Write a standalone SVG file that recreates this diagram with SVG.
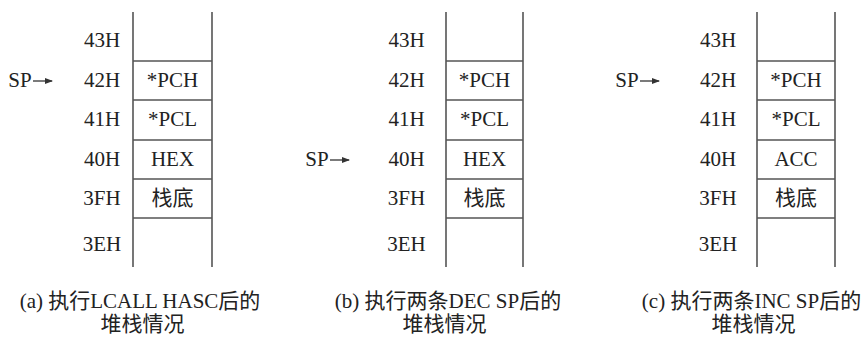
<svg xmlns="http://www.w3.org/2000/svg" width="867" height="339" viewBox="0 0 867 339">
<style>
.t{font-family:"Liberation Serif","Noto Sans CJK SC",serif;font-size:21px;fill:#222;text-anchor:middle}
.l{stroke:#555;stroke-width:1.6;fill:none}
.a{stroke:#333;stroke-width:1.3;fill:none}
</style>
<defs>
<marker id="ah" markerWidth="8" markerHeight="6" refX="7" refY="3" orient="auto" markerUnits="userSpaceOnUse">
<path d="M0,0 L8,3 L0,6 Z" fill="#333"/>
</marker>
</defs>
<rect width="867" height="339" fill="#fff"/>

<g id="stack-a">
<path class="l" d="M133,12V267M212,12V267M133,61H212M133,100H212M133,140H212M133,179H212M133,218H212"/>
<text class="t" x="102" y="47">43H</text>
<text class="t" x="102" y="87">42H</text>
<text class="t" x="102" y="126">41H</text>
<text class="t" x="102" y="166">40H</text>
<text class="t" x="102" y="205">3FH</text>
<text class="t" x="102" y="251">3EH</text>
<text class="t" x="172.5" y="87">*PCH</text>
<text class="t" x="172.5" y="126">*PCL</text>
<text class="t" x="172.5" y="166">HEX</text>
<text class="t" x="172.5" y="205">栈底</text>
<text class="t" x="20" y="87">SP</text>
<text class="t" x="140" y="308">(a) 执行LCALL HASC后的</text>
<text class="t" x="142.5" y="331">堆栈情况</text>
</g>

<g id="stack-b">
<path class="l" d="M446,12V267M523,12V267M446,61H523M446,100H523M446,140H523M446,179H523M446,218H523"/>
<text class="t" x="406.5" y="47">43H</text>
<text class="t" x="406.5" y="87">42H</text>
<text class="t" x="406.5" y="126">41H</text>
<text class="t" x="406.5" y="166">40H</text>
<text class="t" x="406.5" y="205">3FH</text>
<text class="t" x="406.5" y="251">3EH</text>
<text class="t" x="484.5" y="87">*PCH</text>
<text class="t" x="484.5" y="126">*PCL</text>
<text class="t" x="484.5" y="166">HEX</text>
<text class="t" x="484.5" y="205">栈底</text>
<text class="t" x="317" y="166">SP</text>
<text class="t" x="448" y="308">(b) 执行两条DEC SP后的</text>
<text class="t" x="444.5" y="331">堆栈情况</text>
</g>

<g id="stack-c">
<path class="l" d="M757,12V267M835,12V267M757,61H835M757,100H835M757,140H835M757,179H835M757,218H835"/>
<text class="t" x="718" y="47">43H</text>
<text class="t" x="718" y="87">42H</text>
<text class="t" x="718" y="126">41H</text>
<text class="t" x="718" y="166">40H</text>
<text class="t" x="718" y="205">3FH</text>
<text class="t" x="718" y="251">3EH</text>
<text class="t" x="796" y="87">*PCH</text>
<text class="t" x="796" y="126">*PCL</text>
<text class="t" x="796" y="166">ACC</text>
<text class="t" x="796" y="205">栈底</text>
<text class="t" x="627" y="87">SP</text>
<text class="t" x="751.5" y="308">(c) 执行两条INC SP后的</text>
<text class="t" x="753.5" y="331">堆栈情况</text>
</g>

<g id="connectors">
<line class="a" x1="33" y1="81" x2="52" y2="81" marker-end="url(#ah)"/>
<line class="a" x1="330" y1="160" x2="349" y2="160" marker-end="url(#ah)"/>
<line class="a" x1="640" y1="81" x2="659" y2="81" marker-end="url(#ah)"/>
</g>
</svg>
